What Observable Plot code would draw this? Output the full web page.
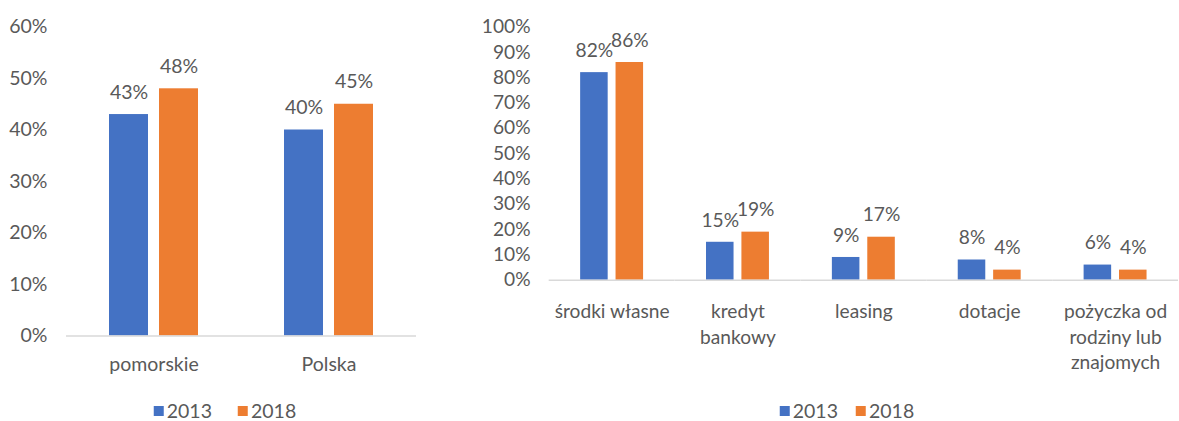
<!DOCTYPE html>
<html>
<head>
<meta charset="utf-8">
<script src="https://cdn.jsdelivr.net/npm/d3@7"></script>
<script src="https://cdn.jsdelivr.net/npm/@observablehq/plot@0.6"></script>
<style>
  html, body { margin: 0; padding: 0; width: 1179px; height: 421px; overflow: hidden; background: #fff; }
  #left { position: absolute; left: 0; top: 0; }
  #right { position: absolute; left: 470px; top: 0; }
  .legend { position: absolute; display: flex; align-items: center; font-family: Lato, sans-serif; font-size: 19.5px; line-height: 16px; color: #595959; white-space: nowrap; transform: translateX(-50%); }
  .item { display: flex; align-items: center; }
  .sw { width: 10px; height: 10px; display: inline-block; margin-right: 3px; }
</style>
</head>
<body>
<div id="left"></div>
<div id="right"></div>
<div id="legLeft" class="legend" style="left:225px; top:403px; gap:26px;"></div>
<div id="legRight" class="legend" style="left:847px; top:403px; gap:18px;"></div>
<script>
// ---- data ----
const years = ["2013", "2018"];
const colors = ["#4472C4", "#ED7D31"];

const leftCategories = ["pomorskie", "Polska"];
const left2013 = [0.43, 0.40];
const left2018 = [0.48, 0.45];
const leftTicks = [0, 0.1, 0.2, 0.3, 0.4, 0.5, 0.6];

const rightCategories = ["środki własne", "kredyt bankowy", "leasing", "dotacje", "pożyczka od rodziny lub znajomych"];
const rightLabels = ["środki własne", "kredyt\nbankowy", "leasing", "dotacje", "pożyczka od\nrodziny lub\nznajomych"];
const right2013 = [0.82, 0.15, 0.09, 0.08, 0.06];
const right2018 = [0.86, 0.19, 0.17, 0.04, 0.04];
const rightTicks = [0, 0.1, 0.2, 0.3, 0.4, 0.5, 0.6, 0.7, 0.8, 0.9, 1.0];

// ---- build tables ----
function table(cats, s1, s2) {
  const rows = [];
  cats.forEach((c, i) => {
    rows.push({cat: c, year: years[0], value: s1[i]});
    rows.push({cat: c, year: years[1], value: s2[i]});
  });
  return rows;
}
const leftData = table(leftCategories, left2013, left2018);
const rightData = table(rightCategories, right2013, right2018);
const pct = d3.format(".0%");
const FONT = "Lato, sans-serif";
const TXT = "#595959";

function chart({data, cats, labels, ticks, ymax, width, marginLeft, marginRight, marginTop, marginBottom, xOuter, fxPad}) {
  return Plot.plot({
    width, height: 390,
    marginLeft, marginRight, marginTop, marginBottom,
    style: {fontFamily: FONT, fontSize: "19.5px", color: TXT, background: "transparent", overflow: "visible"},
    fx: {domain: cats, padding: 0, label: null},
    x: {domain: years, paddingInner: 0.22, paddingOuter: xOuter, axis: null},
    y: {domain: [0, ymax], label: null},
    color: {domain: years, range: colors},
    marks: [
      Plot.axisY({ticks, tickFormat: pct, tickSize: 0, tickPadding: 19, label: null, fill: TXT, fontSize: 19.5}),
      Plot.axisFx({anchor: "bottom", tickSize: 0, tickPadding: fxPad, label: null, fill: TXT, fontSize: 19.5, lineHeight: 1.33,
        tickFormat: d => labels[cats.indexOf(d)]}),
      Plot.barY(data, {fx: "cat", x: "year", y: "value", fill: "year"}),
      Plot.text(data, {fx: "cat", x: "year", y: "value", text: d => pct(d.value), dy: -16, lineAnchor: "bottom", fill: TXT, fontSize: 19.5}),
      Plot.ruleY([0], {stroke: "#D9D9D9", strokeWidth: 1.5})
    ]
  });
}

document.getElementById("left").append(chart({
  data: leftData, cats: leftCategories, labels: leftCategories, ticks: leftTicks, ymax: 0.6,
  width: 430, marginLeft: 66, marginRight: 14, marginTop: 26.5, marginBottom: 54.5, xOuter: 0.86, fxPad: 17
}));
document.getElementById("right").append(chart({
  data: rightData, cats: rightCategories, labels: rightLabels, ticks: rightTicks, ymax: 1.0,
  width: 721, marginLeft: 79, marginRight: 0, marginTop: 27, marginBottom: 105.5, xOuter: 0.84, fxPad: 20
}));

function legend(el) {
  years.forEach((y, i) => {
    const item = document.createElement("span");
    item.className = "item";
    const sw = document.createElement("span");
    sw.className = "sw";
    sw.style.background = colors[i];
    const t = document.createElement("span");
    t.textContent = y;
    item.append(sw, t);
    el.append(item);
  });
}
legend(document.getElementById("legLeft"));
legend(document.getElementById("legRight"));
</script>
</body>
</html>
